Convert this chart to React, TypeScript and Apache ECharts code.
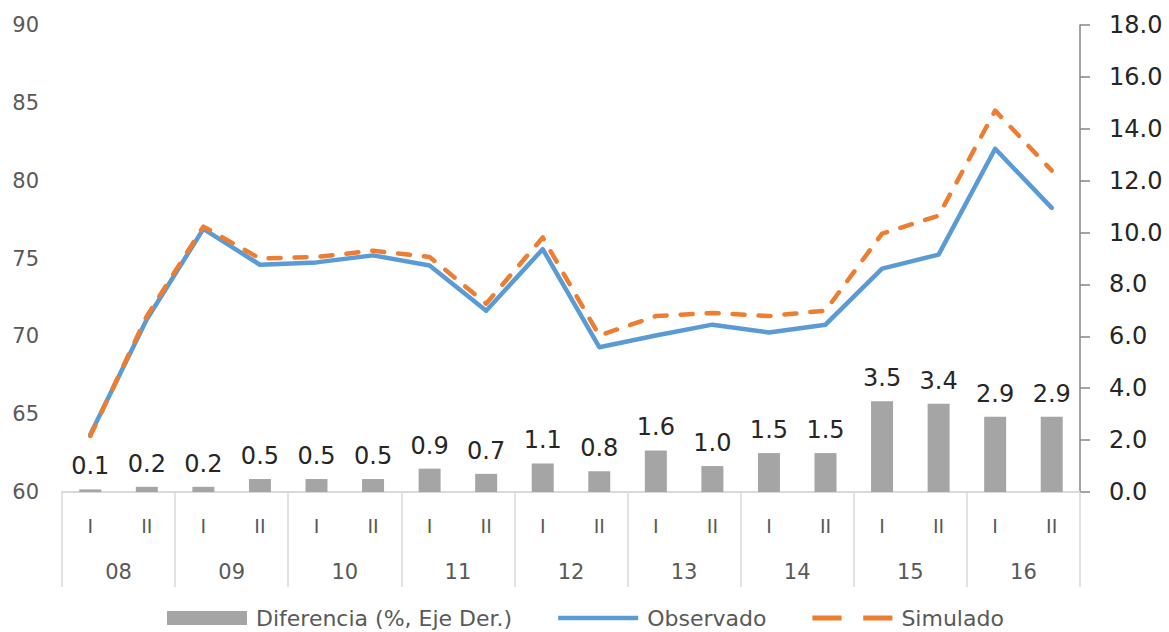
import React, { useEffect, useRef } from "react";
import * as echarts from "echarts";

const halves = ["I", "II", "I", "II", "I", "II", "I", "II", "I", "II", "I", "II", "I", "II", "I", "II", "I", "II"];
const years = ["08", "09", "10", "11", "12", "13", "14", "15", "16"];
const diferencia = [0.1, 0.2, 0.2, 0.5, 0.5, 0.5, 0.9, 0.7, 1.1, 0.8, 1.6, 1.0, 1.5, 1.5, 3.5, 3.4, 2.9, 2.9];
const observado = [63.7, 71.1, 76.9, 74.6, 74.75, 75.2, 74.55, 71.65, 75.6, 69.3, 70.05, 70.75, 70.25, 70.75, 74.35, 75.25, 82.05, 78.25];
const simulado = [63.6, 71.3, 77.05, 75.0, 75.1, 75.5, 75.1, 72.1, 76.35, 70.05, 71.3, 71.5, 71.3, 71.65, 76.6, 77.75, 84.5, 80.65];
const leftTicks = { min: 60, max: 90, interval: 5 };
const rightTicks = { min: 0, max: 18, interval: 2 };

const FONT = "DejaVu Sans";

export default function App() {
  const ref = useRef<HTMLDivElement>(null);
  useEffect(() => {
    if (!ref.current) return;
    const chart = echarts.init(ref.current, undefined, { renderer: "svg" });
    chart.setOption({
      animation: false,
      backgroundColor: "#ffffff",
      textStyle: { fontFamily: FONT },
      grid: { left: 62, right: 89, top: 25, bottom: 140, containLabel: false },
      legend: {
        left: 167,
        top: 606,
        itemWidth: 80,
        itemHeight: 14,
        itemGap: 46,
        padding: 0,
        textStyle: { fontFamily: FONT, fontSize: 22, lineHeight: 24, color: "#595959", padding: [0, 0, 0, 4] },
        data: [
          { name: "Diferencia (%, Eje Der.)", icon: "rect" },
          { name: "Observado", icon: "path://M0 0H80V4.5H0Z" },
          { name: "Simulado", icon: "path://M0 0H27V4.5H0Z M47 0H74V4.5H47Z" },
        ],
      },
      xAxis: [
        {
          type: "category",
          data: halves,
          position: "bottom",
          axisLine: { show: true, lineStyle: { color: "#d9d9d9", width: 2 } },
          axisTick: { show: false },
          axisLabel: { margin: 24, fontFamily: FONT, fontSize: 19, color: "#595959" },
          splitLine: { show: false },
        },
        {
          type: "category",
          data: years,
          position: "bottom",
          axisLine: { show: false },
          axisTick: { show: true, length: 95, lineStyle: { color: "#d9d9d9", width: 1.5 } },
          axisLabel: { margin: 69, fontFamily: FONT, fontSize: 21, color: "#595959" },
          splitLine: { show: false },
        },
      ],
      yAxis: [
        {
          type: "value",
          min: leftTicks.min,
          max: leftTicks.max,
          interval: leftTicks.interval,
          position: "left",
          axisLine: { show: false },
          axisTick: { show: false },
          splitLine: { show: false },
          axisLabel: { margin: 23, fontFamily: FONT, fontSize: 21, color: "#595959" },
        },
        {
          type: "value",
          min: rightTicks.min,
          max: rightTicks.max,
          interval: rightTicks.interval,
          position: "right",
          axisLine: { show: true, lineStyle: { color: "#868686", width: 1.5 } },
          axisTick: { show: true, inside: false, length: 10, lineStyle: { color: "#868686", width: 1.5 } },
          splitLine: { show: false },
          axisLabel: {
            margin: 29,
            fontFamily: FONT,
            fontSize: 24,
            color: "#262626",
            formatter: (v: number) => v.toFixed(1),
          },
        },
      ],
      series: [
        {
          name: "Diferencia (%, Eje Der.)",
          type: "bar",
          xAxisIndex: 0,
          yAxisIndex: 1,
          data: diferencia,
          barWidth: 22,
          itemStyle: { color: "#a5a5a5" },
          label: {
            show: true,
            position: "top",
            distance: 11,
            fontFamily: FONT,
            fontSize: 24,
            color: "#262626",
            formatter: (p: any) => Number(p.value).toFixed(1),
          },
        },
        {
          name: "Observado",
          type: "line",
          xAxisIndex: 0,
          yAxisIndex: 0,
          data: observado,
          symbol: "none",
          itemStyle: { color: "#5b9bd5" },
          lineStyle: { color: "#5b9bd5", width: 4.5, join: "round", cap: "round" },
        },
        {
          name: "Simulado",
          type: "line",
          xAxisIndex: 0,
          yAxisIndex: 0,
          data: simulado,
          symbol: "none",
          itemStyle: { color: "#ed7d31" },
          lineStyle: { color: "#ed7d31", width: 4.5, type: [12, 14], cap: "round", join: "round" },
        },
      ],
    });
    return () => chart.dispose();
  }, []);
  return (
    <div
      ref={ref}
      style={{ position: "fixed", left: 0, top: 0, width: 1169, height: 632, background: "#fff" }}
    />
  );
}
